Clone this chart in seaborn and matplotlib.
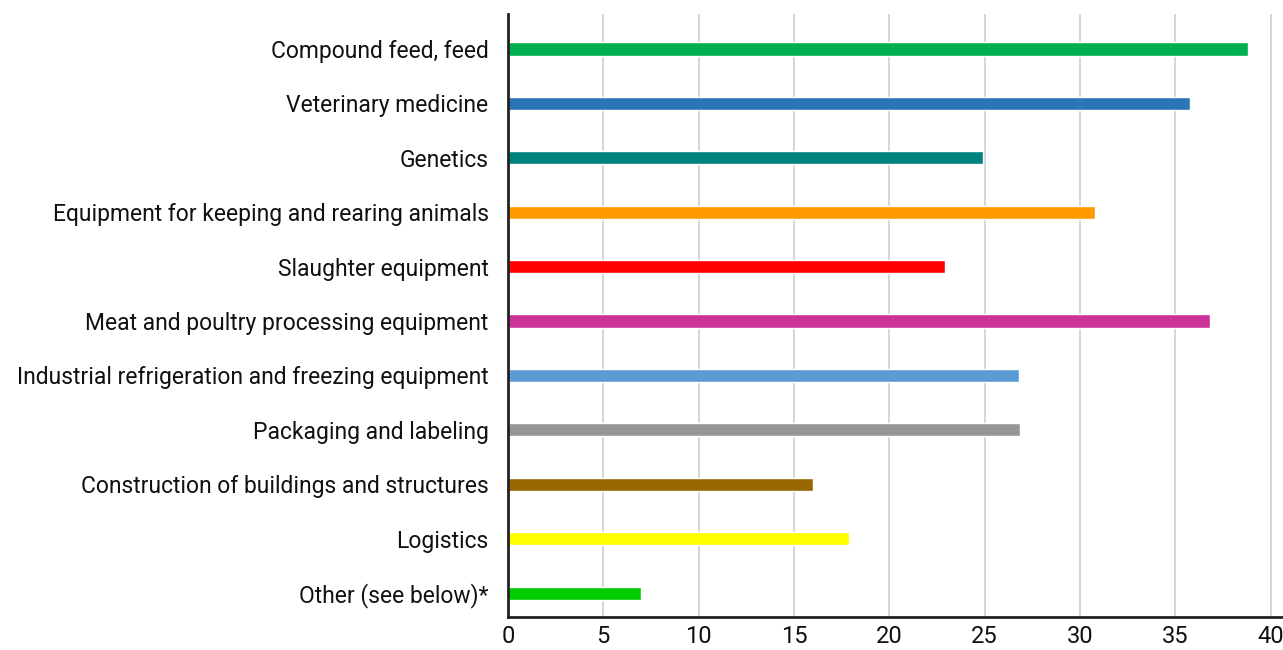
import matplotlib
matplotlib.use("Agg")
import matplotlib.pyplot as plt
import seaborn as sns
import pandas as pd

# 데이터
categories = [
    "Compound feed, feed",
    "Veterinary medicine",
    "Genetics",
    "Equipment for keeping and rearing animals",
    "Slaughter equipment",
    "Meat and poultry processing equipment",
    "Industrial refrigeration and freezing equipment",
    "Packaging and labeling",
    "Construction of buildings and structures",
    "Logistics",
    "Other (see below)*",
]
values = [38.8, 35.8, 24.9, 30.8, 22.9, 36.8, 26.8, 26.85, 16.0, 17.9, 7.0]
colors = ["#00b050", "#2e75b6", "#00827f", "#ff9900", "#ff0000", "#cc3399",
          "#5b9bd5", "#969696", "#996600", "#ffff00", "#00cc00"]
xticks = [0, 5, 10, 15, 20, 25, 30, 35, 40]

df = pd.DataFrame({"category": categories, "value": values})

sns.set_style("white")
plt.rcParams["font.family"] = ["Roboto", "DejaVu Sans"]

fig = plt.figure(figsize=(12.83, 6.5), dpi=100)
ax = fig.add_axes([508 / 1283, 1 - 617 / 650, (1282 - 508) / 1283, (617 - 14) / 650])

sns.barplot(data=df, y="category", x="value", hue="category", palette=colors,
            legend=False, width=0.24, saturation=1, ax=ax)

ax.set_xlim(0, 40.6)
ax.set_ylim(10.44, -0.643)
ax.set_xticks(xticks)
ax.xaxis.grid(True, color="#d0d0d0", linewidth=1.2)
ax.set_axisbelow(True)
ax.set_xlabel("")
ax.set_ylabel("")
for s in ["top", "right"]:
    ax.spines[s].set_visible(False)
for s in ["left", "bottom"]:
    ax.spines[s].set_color("#222222")
    ax.spines[s].set_linewidth(2)
ax.tick_params(axis="y", length=0, labelsize=16.5, pad=14, labelcolor="#111111")
ax.tick_params(axis="x", length=0, labelsize=17, pad=6, labelcolor="#111111")

fig.savefig("out.png", dpi=100)
